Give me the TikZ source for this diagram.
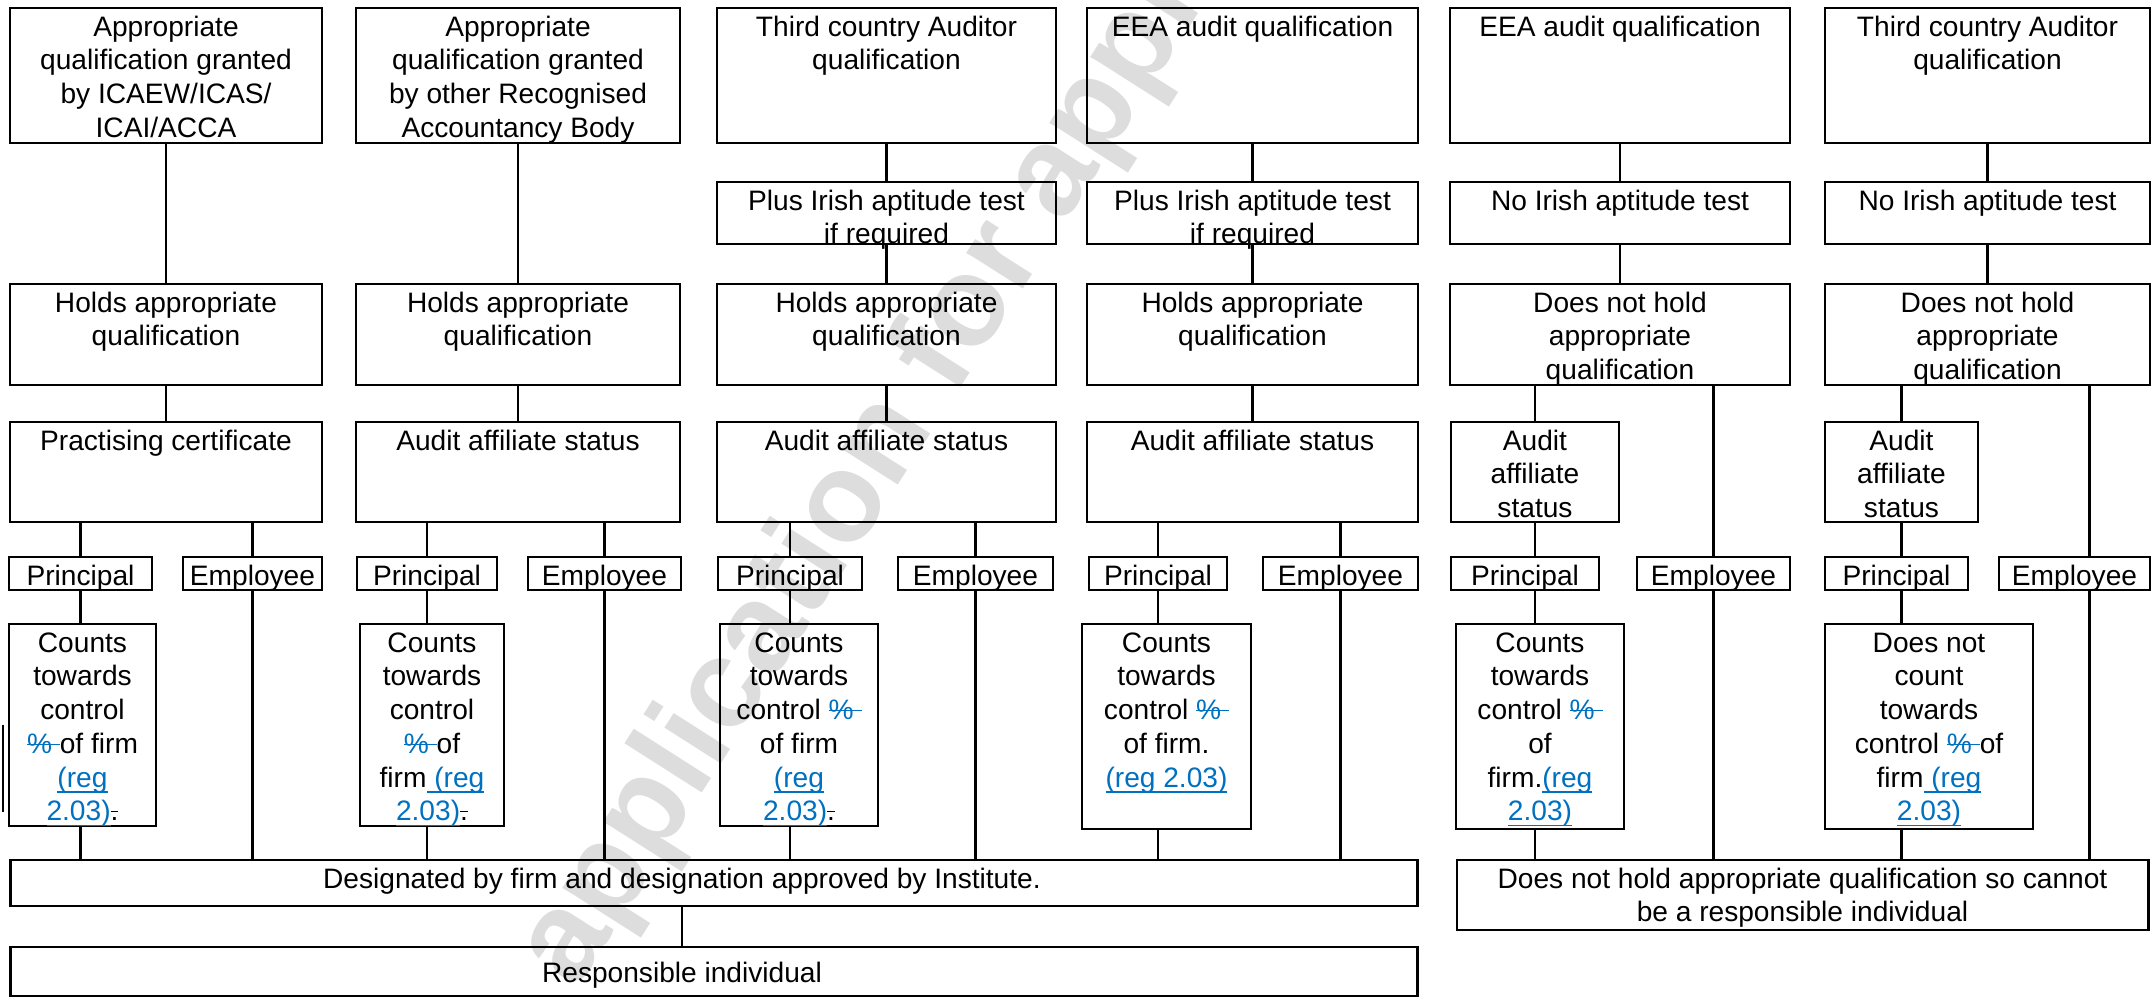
\documentclass[tikz,border=0pt]{standalone}
\usepackage{fontspec}
\setmainfont{Liberation Sans}

\definecolor{revblue}{RGB}{0,112,192}
\newsavebox{\revbox}
\newcommand{\boxtext}[4][t]{\parbox[c][#3][#1]{#2}{\centering\rule{0pt}{10pt}#4}}
\newcommand{\revins}[1]{\textcolor{revblue}{\sbox{\revbox}{#1}\rlap{\rule[-0.2em]{\wd\revbox}{0.5pt}}\usebox{\revbox}}}
\newcommand{\revdel}[1]{\sbox{\revbox}{#1}\rlap{\rule[0.3em]{\wd\revbox}{0.5pt}}\usebox{\revbox}}
\newcommand{\revpct}{\textcolor{revblue}{\revdel{\%\ }}}

\tikzset{
  cell/.style={draw, rectangle, line width=1pt, inner sep=0pt, font=\fontsize{10}{12}\selectfont},
  link/.style={line width=1pt}
}

\begin{document}
\begin{tikzpicture}[x=0.0125cm, y=-0.0125cm]
        \useasboundingbox (0,0) rectangle (2152,1001);
        \node[rotate=57.5, text=gray!27, font=\fontsize{45}{52}\selectfont\bfseries] (Mark) at (934,368) {application for approval};

        % qualifications
        \node[cell] (Qual1) at (166,75.5) {\boxtext{3.9cm}{1.6875cm}{Appropriate\\qualification granted\\by ICAEW/ICAS/\\ICAI/ACCA}};
        \node[cell] (Qual2) at (518,75.5) {\boxtext{4.05cm}{1.6875cm}{Appropriate\\qualification granted\\by other Recognised\\Accountancy Body}};
        \node[cell] (Qual3) at (886.5,75.5) {\boxtext{4.2375cm}{1.6875cm}{Third country Auditor\\qualification}};
        \node[cell] (Qual4) at (1252.5,75.5) {\boxtext{4.1375cm}{1.6875cm}{EEA audit qualification}};
        \node[cell] (Qual5) at (1620,75.5) {\boxtext{4.25cm}{1.6875cm}{EEA audit qualification}};
        \node[cell] (Qual6) at (1987.5,75.5) {\boxtext{4.0625cm}{1.6875cm}{Third country Auditor\\qualification}};

        % aptitude tests
        \node[cell] (Test3) at (886.5,213) {\boxtext{4.2375cm}{0.775cm}{Plus Irish aptitude test\\if required}};
        \node[cell] (Test4) at (1252.5,213) {\boxtext{4.1375cm}{0.775cm}{Plus Irish aptitude test\\if required}};
        \node[cell] (Test5) at (1620,213) {\boxtext{4.25cm}{0.775cm}{No Irish aptitude test}};
        \node[cell] (Test6) at (1987.5,213) {\boxtext{4.0625cm}{0.775cm}{No Irish aptitude test}};

        % holds / does not hold
        \node[cell] (Hold1) at (166,334.5) {\boxtext{3.9cm}{1.2625cm}{Holds appropriate\\qualification}};
        \node[cell] (Hold2) at (518,334.5) {\boxtext{4.05cm}{1.2625cm}{Holds appropriate\\qualification}};
        \node[cell] (Hold3) at (886.5,334.5) {\boxtext{4.2375cm}{1.2625cm}{Holds appropriate\\qualification}};
        \node[cell] (Hold4) at (1252.5,334.5) {\boxtext{4.1375cm}{1.2625cm}{Holds appropriate\\qualification}};
        \node[cell] (Hold5) at (1620,334.5) {\boxtext{4.25cm}{1.2625cm}{Does not hold\\appropriate\\qualification}};
        \node[cell] (Hold6) at (1987.5,334.5) {\boxtext{4.0625cm}{1.2625cm}{Does not hold\\appropriate\\qualification}};

        % status
        \node[cell] (Status1) at (166,472) {\boxtext{3.9cm}{1.25cm}{Practising certificate}};
        \node[cell] (Status2) at (518,472) {\boxtext{4.05cm}{1.25cm}{Audit affiliate status}};
        \node[cell] (Status3) at (886.5,472) {\boxtext{4.2375cm}{1.25cm}{Audit affiliate status}};
        \node[cell] (Status4) at (1252.5,472) {\boxtext{4.1375cm}{1.25cm}{Audit affiliate status}};
        \node[cell] (Status5) at (1535,472) {\boxtext{2.1cm}{1.25cm}{Audit\\affiliate\\status}};
        \node[cell] (Status6) at (1901.5,472) {\boxtext{1.9125cm}{1.25cm}{Audit\\affiliate\\status}};

        % principal / employee
        \node[cell] (Prin1) at (80.5,573.5) {\boxtext{1.7875cm}{0.4125cm}{Principal}};
        \node[cell] (Emp1) at (252.5,573.5) {\boxtext{1.7375cm}{0.4125cm}{Employee}};
        \node[cell] (Prin2) at (427,573.5) {\boxtext{1.75cm}{0.4125cm}{Principal}};
        \node[cell] (Emp2) at (604.5,573.5) {\boxtext{1.9125cm}{0.4125cm}{Employee}};
        \node[cell] (Prin3) at (790,573.5) {\boxtext{1.8cm}{0.4125cm}{Principal}};
        \node[cell] (Emp3) at (975.5,573.5) {\boxtext{1.9375cm}{0.4125cm}{Employee}};
        \node[cell] (Prin4) at (1158,573.5) {\boxtext{1.725cm}{0.4125cm}{Principal}};
        \node[cell] (Emp4) at (1340.5,573.5) {\boxtext{1.9375cm}{0.4125cm}{Employee}};
        \node[cell] (Prin5) at (1525,573.5) {\boxtext{1.85cm}{0.4125cm}{Principal}};
        \node[cell] (Emp5) at (1713.5,573.5) {\boxtext{1.9125cm}{0.4125cm}{Employee}};
        \node[cell] (Prin6) at (1896.5,573.5) {\boxtext{1.7875cm}{0.4125cm}{Principal}};
        \node[cell] (Emp6) at (2074.5,573.5) {\boxtext{1.8875cm}{0.4125cm}{Employee}};

        % control counts
        \node[cell] (Count1) at (82.5,725) {\boxtext{1.8375cm}{2.525cm}{Counts\\towards\\control\\\revpct of firm\\\revins{(reg}\\\revins{2.03)}\revdel{.}}};
        \node[cell] (Count2) at (432,725) {\boxtext{1.8cm}{2.525cm}{Counts\\towards\\control\\\revpct of\\firm\revins{ (reg}\\\revins{2.03)}\revdel{.}}};
        \node[cell] (Count3) at (799,725) {\boxtext{1.975cm}{2.525cm}{Counts\\towards\\control \revpct\\of firm\\\revins{(reg}\\\revins{2.03)}\revdel{.}}};
        \node[cell] (Count4) at (1166.5,726.5) {\boxtext{2.1125cm}{2.5625cm}{Counts\\towards\\control \revpct\\of firm.\\\revins{(reg 2.03)}}};
        \node[cell] (Count5) at (1540,726.5) {\boxtext{2.1cm}{2.5625cm}{Counts\\towards\\control \revpct\\of\\firm.\revins{(reg}\\\revins{2.03)}}};
        \node[cell] (Count6) at (1929,726.5) {\boxtext{2.6cm}{2.5625cm}{Does not\\count\\towards\\control \revpct of\\firm\revins{ (reg}\\\revins{2.03)}}};

        % outcomes
        \node[cell] (Desig) at (714,883) {\boxtext{17.575cm}{0.575cm}{\hspace*{-0.8cm}Designated by firm and designation approved by Institute.}};
        \node[cell] (Resp) at (714,971.5) {\boxtext[c]{17.575cm}{0.6125cm}{\hspace*{-0.8cm}Responsible individual}};
        \node[cell] (NoResp) at (1802.5,895) {\boxtext{8.6375cm}{0.875cm}{Does not hold appropriate qualification so cannot\\be a responsible individual}};

        % links down the columns
        \draw[link] (Qual1) -- (Hold1);
        \draw[link] (Qual2) -- (Hold2);
        \draw[link] (Qual3) -- (Test3);
        \draw[link] (Qual4) -- (Test4);
        \draw[link] (Qual5) -- (Test5);
        \draw[link] (Qual6) -- (Test6);
        \draw[link] (Test3) -- (Hold3);
        \draw[link] (Test4) -- (Hold4);
        \draw[link] (Test5) -- (Hold5);
        \draw[link] (Test6) -- (Hold6);
        \draw[link] (Hold1) -- (Status1);
        \draw[link] (Hold2) -- (Status2);
        \draw[link] (Hold3) -- (Status3);
        \draw[link] (Hold4) -- (Status4);
        \draw[link] (Status5.north |- Hold5.south) -- (Status5.north);
        \draw[link] (Status6.north |- Hold6.south) -- (Status6.north);

        \draw[link] (Prin1.north |- Status1.south) -- (Prin1.north);
        \draw[link] (Emp1.north |- Status1.south) -- (Emp1.north);
        \draw[link] (Prin2.north |- Status2.south) -- (Prin2.north);
        \draw[link] (Emp2.north |- Status2.south) -- (Emp2.north);
        \draw[link] (Prin3.north |- Status3.south) -- (Prin3.north);
        \draw[link] (Emp3.north |- Status3.south) -- (Emp3.north);
        \draw[link] (Prin4.north |- Status4.south) -- (Prin4.north);
        \draw[link] (Emp4.north |- Status4.south) -- (Emp4.north);
        \draw[link] (Status5.south) -- (Status5.south |- Prin5.north);
        \draw[link] (Emp5.north |- Hold5.south) -- (Emp5.north);
        \draw[link] (Status6.south) -- (Status6.south |- Prin6.north);
        \draw[link] ([xshift=0.19cm]Emp6.north |- Hold6.south) -- ([xshift=0.19cm]Emp6.north);

        \draw[link] (Prin1.south) -- (Prin1.south |- Count1.north);
        \draw[link] (Prin2.south) -- (Prin2.south |- Count2.north);
        \draw[link] (Prin3.south) -- (Prin3.south |- Count3.north);
        \draw[link] (Prin4.south) -- (Prin4.south |- Count4.north);
        \draw[link] (Status5.south |- Prin5.south) -- (Status5.south |- Count5.north);
        \draw[link] (Status6.south |- Prin6.south) -- (Status6.south |- Count6.north);

        % into the outcomes
        \draw[link] (Prin1.south |- Count1.south) -- (Prin1.south |- Desig.north);
        \draw[link] (Emp1.south) -- (Emp1.south |- Desig.north);
        \draw[link] (Prin2.south |- Count2.south) -- (Prin2.south |- Desig.north);
        \draw[link] (Emp2.south) -- (Emp2.south |- Desig.north);
        \draw[link] (Prin3.south |- Count3.south) -- (Prin3.south |- Desig.north);
        \draw[link] (Emp3.south) -- (Emp3.south |- Desig.north);
        \draw[link] (Prin4.south |- Count4.south) -- (Prin4.south |- Desig.north);
        \draw[link] (Emp4.south) -- (Emp4.south |- Desig.north);
        \draw[link] (Status5.south |- Count5.south) -- (Status5.south |- NoResp.north);
        \draw[link] (Emp5.south) -- (Emp5.south |- NoResp.north);
        \draw[link] (Status6.south |- Count6.south) -- (Status6.south |- NoResp.north);
        \draw[link] ([xshift=0.19cm]Emp6.south) -- ([xshift=0.19cm]Emp6.south |- NoResp.north);
        \draw[link] ([xshift=-0.4cm]Desig.south) -- ([xshift=-0.4cm]Desig.south |- Resp.north);

        % change bar
        \draw[line width=0.8pt] (3,725) -- (3,812);
    \end{tikzpicture}
\end{document}
